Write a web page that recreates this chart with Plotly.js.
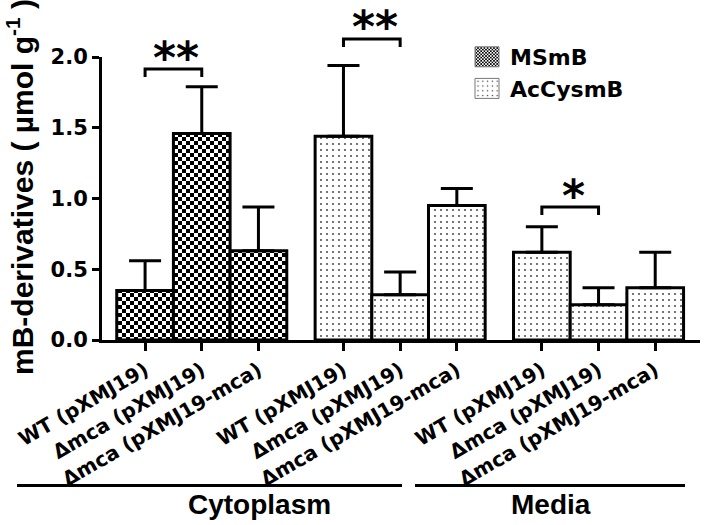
<!DOCTYPE html>
<html><head><meta charset="utf-8">
<script src="https://cdn.plot.ly/plotly-3.0.1.min.js"></script>
<style>html,body{margin:0;padding:0;background:#fff}</style>
</head><body><div id="chart" style="width:704px;height:525px"></div>
<script>
// ---- data ----
const strainLabels = ['WT (pXMJ19)', '\u0394mca (pXMJ19)', '\u0394mca (pXMJ19-mca)'];
const fractionLabels = ['Cytoplasm', 'Media'];
const seriesNames = ['MSmB', 'AcCysmB'];
const msmbCytoMean = [0.35, 1.46, 0.63];
const msmbCytoErr = [0.21, 0.33, 0.31];
const accysCytoMean = [1.44, 0.32, 0.95];
const accysCytoErr = [0.50, 0.16, 0.12];
const accysMediaMean = [0.62, 0.25, 0.37];
const accysMediaErr = [0.18, 0.12, 0.25];
const yTicks = [0, 0.5, 1.0, 1.5, 2.0];
const sigMarks = ['**', '**', '*'];
const yTitle = 'mB-derivatives ( \u00b5mol g<sup>-1</sup> )';

// ---- layout helpers ----
const groupStep = 3.5;
const pos = (g, i) => g * groupStep + i;
const xsFor = g => strainLabels.map((_, i) => pos(g, i));
const zeros = n => new Array(n).fill(0);
const L = 102, T = 57, W = 598, H = 283;
const px2x = p => (p - L) / W;
const py2y = p => (T + H - p) / H;
const F = 'DejaVu Sans';
const FA = 'Liberation Sans';

const errStyle = {type: 'data', symmetric: false, color: '#000', thickness: 3, width: 16};

const traces = [
  {
    type: 'bar', name: seriesNames[0],
    x: xsFor(0), y: msmbCytoMean, width: 1,
    error_y: Object.assign({array: msmbCytoErr, arrayminus: zeros(3)}, errStyle),
    marker: {color: '#fff', line: {color: '#000', width: 3},
      pattern: {shape: '+', fgcolor: '#000', bgcolor: '#fff', size: 8, solidity: 0.5}},
    hoverinfo: 'skip'
  },
  {
    type: 'bar', name: seriesNames[1],
    x: xsFor(1).concat(xsFor(2)), y: accysCytoMean.concat(accysMediaMean), width: 1,
    error_y: Object.assign({array: accysCytoErr.concat(accysMediaErr), arrayminus: zeros(6)}, errStyle),
    marker: {color: '#fff', line: {color: '#000', width: 3},
      pattern: {shape: '.', fgcolor: '#333', bgcolor: '#fff', size: 6, solidity: 0.07}},
    hoverinfo: 'skip'
  }
];

const tickvals = [0, 1, 2].flatMap(g => xsFor(g));
const ticktext = [0, 1, 2].flatMap(() => strainLabels);

// significance brackets: [group, bracket top px, star centre px]
const sigDefs = [[0, 69, 57], [1, 39, 27], [2, 207, 195]];
const shapes = [];
const annotations = [];
sigDefs.forEach(([g, top, starY], k) => {
  const x0 = pos(g, 0), x1 = pos(g, 1);
  shapes.push({type: 'path', xref: 'x', yref: 'paper',
    path: `M${x0},${py2y(top + 8)} L${x0},${py2y(top)} L${x1},${py2y(top)} L${x1},${py2y(top + 8)}`,
    line: {color: '#000', width: 3}});
  annotations.push({xref: 'x', yref: 'paper', x: (x0 + x1) / 2 + 0.05, y: py2y(starY),
    text: sigMarks[k], showarrow: false, xanchor: 'center', yanchor: 'middle',
    font: {family: F, size: 44, color: '#000', weight: 'bold'}});
});
// fraction underlines and labels
shapes.push({type: 'line', xref: 'paper', yref: 'paper', x0: px2x(17), x1: px2x(402), y0: py2y(485.5), y1: py2y(485.5), line: {color: '#000', width: 3}});
shapes.push({type: 'line', xref: 'paper', yref: 'paper', x0: px2x(415), x1: px2x(685), y0: py2y(485.5), y1: py2y(485.5), line: {color: '#000', width: 3}});
annotations.push({xref: 'paper', yref: 'paper', x: px2x(259), y: py2y(504), text: fractionLabels[0], showarrow: false,
  xanchor: 'center', yanchor: 'middle', font: {family: FA, size: 28, color: '#000', weight: 'bold'}});
annotations.push({xref: 'paper', yref: 'paper', x: px2x(551), y: py2y(504), text: fractionLabels[1], showarrow: false,
  xanchor: 'center', yanchor: 'middle', font: {family: FA, size: 28, color: '#000', weight: 'bold'}});
annotations.push({xref: 'paper', yref: 'paper', x: px2x(20), y: py2y(187), text: yTitle, textangle: -90, showarrow: false,
  xanchor: 'center', yanchor: 'middle', font: {family: FA, size: 30, color: '#000', weight: 'bold'}});

const layout = {
  width: 704, height: 525,
  margin: {l: L, r: 704 - L - W, t: T, b: 525 - T - H},
  paper_bgcolor: '#fff', plot_bgcolor: '#fff',
  barmode: 'overlay',
  showlegend: true,
  legend: {x: px2x(470), y: py2y(36), xanchor: 'left', yanchor: 'top', bgcolor: 'rgba(0,0,0,0)',
    font: {family: F, size: 22, color: '#000', weight: 'bold'}, traceorder: 'normal'},
  xaxis: {range: [-0.76, 9.79], tickvals: tickvals, ticktext: ticktext, tickangle: -30,
    ticks: 'outside', ticklen: 8, tickwidth: 3, tickcolor: '#000',
    showline: true, linewidth: 3, linecolor: '#000', showgrid: false, zeroline: false,
    tickfont: {family: F, size: 20, color: '#000', weight: 'bold'}},
  yaxis: {range: [0, 2], tickvals: yTicks, ticktext: yTicks.map(v => v.toFixed(1)),
    ticks: 'outside', ticklen: 7, tickwidth: 3, tickcolor: '#000',
    showline: true, linewidth: 3, linecolor: '#000', showgrid: false, zeroline: false,
    tickfont: {family: F, size: 21, color: '#000', weight: 'bold'}},
  shapes: shapes,
  annotations: annotations
};

const NS = 'http://www.w3.org/2000/svg';
function toChecker(p, cell) {
  const s = 2 * cell;
  p.setAttribute('width', s); p.setAttribute('height', s);
  while (p.firstChild) p.removeChild(p.firstChild);
  const r = document.createElementNS(NS, 'rect');
  r.setAttribute('width', s); r.setAttribute('height', s); r.setAttribute('fill', '#fff');
  const path = document.createElementNS(NS, 'path');
  path.setAttribute('d', `M0,0h${cell}v${cell}h-${cell}zM${cell},${cell}h${cell}v${cell}h-${cell}z`);
  path.setAttribute('fill', '#000');
  p.appendChild(r); p.appendChild(path);
  p.setAttribute('data-done', '1');
}
function fixPatterns() {
  const gd = document.getElementById('chart');
  gd.querySelectorAll('.legend .legendpoints path').forEach(el => {
    el.setAttribute('d', 'M9,10H-15V-10H9Z');
    el.style.strokeWidth = '1px'; el.style.stroke = '#777';
    const m = (el.style.fill || el.getAttribute('fill') || '').match(/#([^'")\s]+)/);
    if (m) {
      const pat = document.getElementById(m[1]);
      if (pat && pat.querySelector('path') && !pat.getAttribute('data-done')) {
        const c = pat.cloneNode(true);
        c.id = m[1] + '-lg';
        pat.parentNode.appendChild(c);
        toChecker(c, 2);
        el.style.fill = `url(#${c.id})`;
      }
    }
  });
  gd.querySelectorAll('pattern').forEach(p => {
    if (!p.getAttribute('data-done') && p.querySelector('path')) toChecker(p, 4);
  });
}
const gd = document.getElementById('chart');
Plotly.newPlot(gd, traces, layout, {staticPlot: true, displayModeBar: false}).then(() => {
  fixPatterns();
  gd.on && gd.on('plotly_afterplot', fixPatterns);
});
</script>
</body></html>
